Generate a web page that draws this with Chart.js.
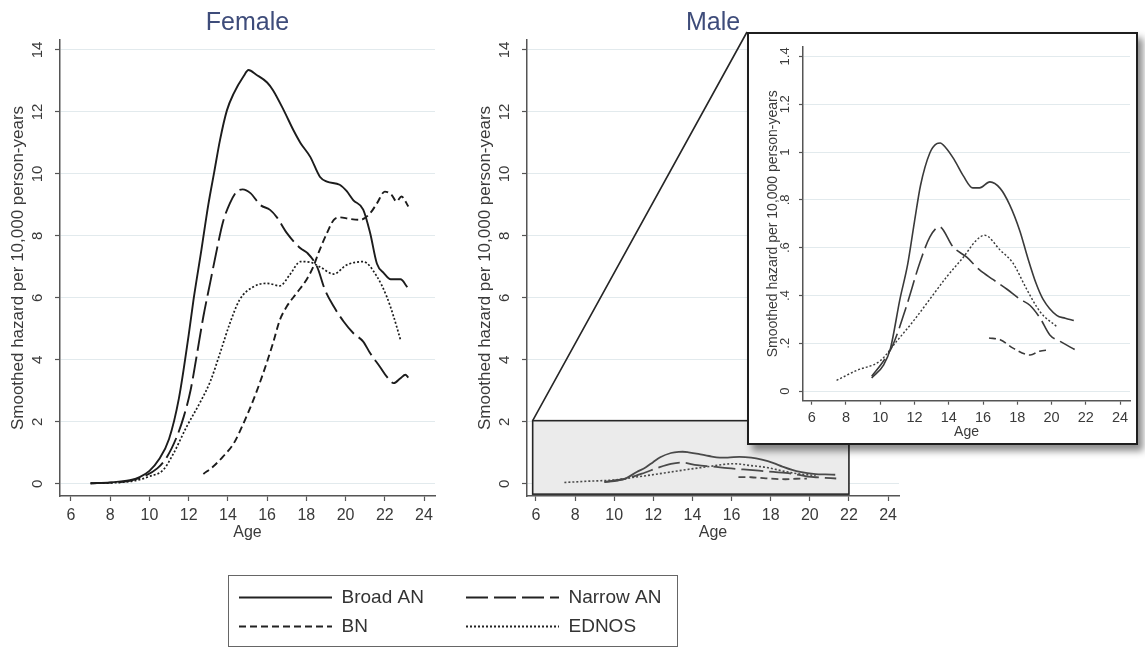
<!DOCTYPE html>
<html><head><meta charset="utf-8">
<script src="https://cdn.jsdelivr.net/npm/chart.js@4.4.1/dist/chart.umd.min.js"></script>
<style>
html,body{margin:0;padding:0;width:1145px;height:650px;overflow:hidden;background:#fff;}
canvas{position:absolute;}
#inset{position:absolute;left:747px;top:32px;width:387px;height:409px;border:2px solid #1e1e1e;background:#fff;box-shadow:5px 6px 7px rgba(0,0,0,0.45);z-index:2;}
#inset canvas{left:0;top:0;}
#legendBox{position:absolute;left:228px;top:575px;width:448px;height:70px;border:1.5px solid #666;}
</style></head><body>
<canvas id="female" width="460" height="546" style="left:0;top:0"></canvas>
<canvas id="male" width="460" height="546" style="left:467px;top:0"></canvas>
<div id="inset"><canvas id="zoom" width="387" height="409"></canvas></div>
<div id="legendBox"></div>
<canvas id="leg1" width="222" height="150" style="left:229px;top:578px;z-index:3"></canvas>
<canvas id="leg2" width="222" height="150" style="left:456px;top:578px;z-index:3"></canvas>
<script>
Chart.defaults.font.family = "'Liberation Sans', Arial, Helvetica, sans-serif";
Chart.defaults.color = '#3a3a3a';

// ---------------- data ----------------
const ageTicks = [6, 8, 10, 12, 14, 16, 18, 20, 22, 24];
const hazardTicks = [0, 2, 4, 6, 8, 10, 12, 14];
const insetHazardTicks = [0, 0.2, 0.4, 0.6, 0.8, 1, 1.2, 1.4];
const insetHazardTickLabels = ['0', '.2', '.4', '.6', '.8', '1', '1.2', '1.4'];
const seriesNames = ['Broad AN', 'Narrow AN', 'BN', 'EDNOS'];

// Female
const femaleBroadAge = [7, 8, 9, 9.5, 10, 10.5, 11, 11.5, 12, 12.25, 12.65, 13, 13.3, 13.6, 13.95, 14.3, 14.8, 15.05, 15.45, 16, 16.3, 16.85, 17.35, 17.7, 18.2, 18.7, 19.05, 19.7, 20.05, 20.4, 20.9, 21.25, 21.6, 21.95, 22.3, 22.8, 23.15];
const femaleBroadHazard = [0.02, 0.05, 0.12, 0.22, 0.42, 0.8, 1.45, 2.75, 4.8, 5.95, 7.55, 9.0, 10.05, 11.1, 12.05, 12.6, 13.15, 13.35, 13.2, 12.95, 12.7, 12.05, 11.4, 11.0, 10.55, 9.9, 9.75, 9.65, 9.45, 9.15, 8.85, 8.1, 7.1, 6.8, 6.6, 6.6, 6.35];
const femaleNarrowAge = [7, 8, 9, 9.7, 10.4, 10.9, 11.4, 11.75, 12.1, 12.4, 12.75, 13.1, 13.45, 13.75, 14.1, 14.45, 14.75, 15.15, 15.65, 16.15, 16.5, 17, 17.7, 18.05, 18.55, 18.95, 19.4, 19.9, 20.4, 20.9, 21.25, 21.75, 22.1, 22.45, 22.8, 23.05, 23.2];
const femaleNarrowHazard = [0.02, 0.04, 0.1, 0.24, 0.5, 0.88, 1.53, 2.17, 3.03, 4.1, 5.4, 6.5, 7.6, 8.45, 9.05, 9.43, 9.5, 9.38, 9.0, 8.84, 8.6, 8.1, 7.6, 7.45, 7.0, 6.26, 5.72, 5.24, 4.86, 4.59, 4.22, 3.78, 3.46, 3.25, 3.41, 3.52, 3.43];
const femaleBNAge = [12.75, 13.25, 13.75, 14.3, 14.8, 15.3, 15.8, 16.3, 16.65, 17, 17.5, 18, 18.35, 18.65, 19.05, 19.4, 19.7, 20.2, 20.75, 21.25, 21.6, 22.0, 22.35, 22.6, 22.85, 23.2];
const femaleBNHazard = [0.32, 0.56, 0.88, 1.31, 1.96, 2.71, 3.57, 4.54, 5.29, 5.72, 6.15, 6.58, 7.0, 7.5, 8.09, 8.52, 8.6, 8.55, 8.52, 8.73, 9.05, 9.43, 9.32, 9.11, 9.27, 8.95];
const femaleEDNOSAge = [7, 8, 9, 9.5, 10, 10.7, 11.2, 11.9, 12.6, 13.1, 13.6, 14.1, 14.6, 15.3, 16, 16.65, 17.15, 17.7, 18.2, 18.7, 19.4, 20.05, 20.9, 21.6, 22.1, 22.45, 22.8];
const femaleEDNOSHazard = [0.02, 0.03, 0.08, 0.14, 0.24, 0.45, 0.95, 1.85, 2.65, 3.3, 4.22, 5.18, 5.94, 6.36, 6.47, 6.39, 6.74, 7.17, 7.15, 7.0, 6.77, 7.06, 7.17, 6.69, 6.04, 5.4, 4.65];

// Male
const maleBroadAge = [9.5, 10.2, 10.6, 11.15, 11.6, 12, 12.35, 12.9, 13.3, 13.5, 13.8, 14.3, 14.85, 15.4, 15.8, 16.4, 17, 17.55, 18.15, 18.6, 19.1, 19.5, 20.3, 20.8, 21.3];
const maleBroadHazard = [0.055, 0.11, 0.18, 0.385, 0.53, 0.71, 0.86, 0.997, 1.035, 1.038, 1.02, 0.97, 0.9, 0.85, 0.85, 0.875, 0.848, 0.78, 0.67, 0.56, 0.45, 0.385, 0.317, 0.305, 0.295];
const maleNarrowAge = [9.5, 10.2, 10.75, 11.55, 12.3, 12.9, 13.45, 14.25, 15.05, 15.8, 16.6, 17.4, 18.15, 18.75, 19.35, 19.9, 20.5, 21.35];
const maleNarrowHazard = [0.062, 0.127, 0.195, 0.36, 0.535, 0.645, 0.687, 0.603, 0.56, 0.507, 0.466, 0.426, 0.385, 0.358, 0.303, 0.235, 0.208, 0.174];
const maleBNAge = [16.35, 17, 17.75, 18.75, 19.3, 19.85];
const maleBNHazard = [0.222, 0.215, 0.18, 0.151, 0.167, 0.172];
const maleEDNOSAge = [7.45, 8.6, 10, 10.95, 11.9, 12.9, 13.9, 14.85, 15.6, 16.1, 17, 17.75, 18.55, 19.35, 20.3];
const maleEDNOSHazard = [0.045, 0.086, 0.127, 0.208, 0.29, 0.385, 0.48, 0.56, 0.63, 0.652, 0.59, 0.535, 0.426, 0.33, 0.27];

// zoomed region shown in the male panel (data units)
const zoomRegionAge = [5.83, 22];
const zoomRegionHazard = [-0.33, 2.04];

// ---------------- styles ----------------
const seriesDash = {'Broad AN': [], 'Narrow AN': [22, 6], 'BN': [7, 4], 'EDNOS': [2, 2]};
const FONT = "'Liberation Sans', Arial, Helvetica, sans-serif";

function ds(name, ages, vals, color, width) {
  return {
    label: name,
    data: ages.map((a, i) => ({x: a, y: vals[i]})),
    borderColor: color,
    borderWidth: name === 'EDNOS' ? width * 0.9 : width,
    borderDash: seriesDash[name],
    pointRadius: 0,
    fill: false,
    cubicInterpolationMode: 'monotone',
    borderCapStyle: 'butt'
  };
}

function panelOptions(c) {
  return {
    responsive: false, animation: false, devicePixelRatio: 1,
    layout: {padding: {left: 0, right: c.padRight, top: c.padTop || 0, bottom: 0}},
    plugins: {
      legend: {display: false},
      tooltip: {enabled: false},
      title: c.title ? {display: true, text: c.title, fullSize: false, color: '#3e4c7a',
        font: {family: FONT, size: 25, weight: 'normal'}, padding: {top: 8, bottom: 2}} : {display: false}
    },
    scales: {
      x: {
        type: 'linear', min: c.xMin, max: c.xMax,
        afterBuildTicks: s => { s.ticks = ageTicks.map(v => ({value: v})); },
        afterFit: s => { s.height = c.xH; },
        grid: {display: true, drawOnChartArea: false, drawTicks: true, tickLength: c.tl, tickColor: '#555', tickWidth: 1.2},
        border: {display: true, color: '#555', width: 1.5},
        ticks: {autoSkip: false, maxRotation: 0, minRotation: 0, padding: c.xPad, color: '#3a3a3a',
          font: {family: FONT, size: c.xFont}},
        title: {display: true, text: 'Age', color: '#3a3a3a', font: {family: FONT, size: c.xTitleFont},
          padding: {top: 0, bottom: c.xTitlePad}}
      },
      y: {
        type: 'linear', min: c.yMin, max: c.yMax,
        afterBuildTicks: s => { s.ticks = c.yTicks.map(v => ({value: v})); },
        afterFit: s => { s.width = c.yW; },
        grid: {display: true, color: '#e2eaed', lineWidth: 1, drawTicks: true, tickLength: c.tl, tickColor: '#555', tickWidth: 1.2},
        border: {display: true, color: '#555', width: 1.5},
        ticks: {autoSkip: false, minRotation: 90, maxRotation: 90, crossAlign: 'center', padding: c.yPad,
          color: '#3a3a3a', font: {family: FONT, size: c.yFont},
          callback: (v, i) => c.yLabels ? c.yLabels[i] : String(v)},
        title: {display: true, text: 'Smoothed hazard per 10,000 person-years', color: '#3a3a3a',
          font: {family: FONT, size: c.yTitleFont}, padding: {top: c.yTitlePad, bottom: 0}}
      }
    }
  };
}

const mainCfg = {yMin: -0.39, yMax: 14.32, yTicks: hazardTicks, yW: 60, xH: 50, tl: 5,
  xPad: 5.4, yPad: 9, xFont: 16, yFont: 15, xTitleFont: 16, yTitleFont: 17, xTitlePad: 3.4, yTitlePad: 8};

function datasetsFor(ages, vals, color, width) {
  return seriesNames.map((n, k) => ds(n, ages[k], vals[k], color, width));
}

// Female panel
new Chart(document.getElementById('female'), {
  type: 'line',
  data: {datasets: datasetsFor(
    [femaleBroadAge, femaleNarrowAge, femaleBNAge, femaleEDNOSAge],
    [femaleBroadHazard, femaleNarrowHazard, femaleBNHazard, femaleEDNOSHazard], '#1c1c1c', 1.9)},
  options: panelOptions(Object.assign({}, mainCfg, {title: 'Female', xMin: 5.44, xMax: 24.56, padRight: 25}))
});

// Zoom-region plugin for male panel
const zoomRegionPlugin = {
  id: 'zoomRegion',
  beforeDatasetsDraw(chart) {
    const {ctx, scales: {x, y}} = chart;
    const l = x.getPixelForValue(zoomRegionAge[0]), r = x.getPixelForValue(zoomRegionAge[1]);
    const t = y.getPixelForValue(zoomRegionHazard[1]), b = y.getPixelForValue(zoomRegionHazard[0]);
    const inset = document.getElementById('inset');
    const cv = chart.canvas;
    const ix = inset.offsetLeft - cv.offsetLeft, iy = inset.offsetTop - cv.offsetTop;
    const ib = iy + inset.offsetHeight;
    ctx.save();
    ctx.fillStyle = '#ebebeb';
    ctx.fillRect(l, t, r - l, b - t);
    ctx.strokeStyle = '#262626';
    ctx.lineWidth = 1.6;
    ctx.strokeRect(l, t, r - l, b - t);
    ctx.beginPath();
    ctx.moveTo(l, t); ctx.lineTo(ix, iy);
    ctx.moveTo(r, t); ctx.lineTo(r, ib);
    ctx.stroke();
    ctx.restore();
  }
};

// Male panel
new Chart(document.getElementById('male'), {
  type: 'line',
  data: {datasets: datasetsFor(
    [maleBroadAge, maleNarrowAge, maleBNAge, maleEDNOSAge],
    [maleBroadHazard, maleNarrowHazard, maleBNHazard, maleEDNOSHazard], '#4a4a4a', 1.8)},
  options: panelOptions(Object.assign({}, mainCfg, {title: 'Male', xMin: 5.54, xMax: 24.56, padRight: 28})),
  plugins: [zoomRegionPlugin]
});

// Inset (zoomed male)
new Chart(document.getElementById('zoom'), {
  type: 'line',
  data: {datasets: datasetsFor(
    [maleBroadAge, maleNarrowAge, maleBNAge, maleEDNOSAge],
    [maleBroadHazard, maleNarrowHazard, maleBNHazard, maleEDNOSHazard], '#3a3a3a', 1.6)},
  options: panelOptions({xMin: 5.49, xMax: 24.58, yMin: -0.04, yMax: 1.44, yTicks: insetHazardTicks,
    yLabels: insetHazardTickLabels, padRight: 6, padTop: 4, yW: 54, xH: 42.3, tl: 4,
    xPad: 4.3, yPad: 5, xFont: 14.5, yFont: 13, xTitleFont: 14, yTitleFont: 14, xTitlePad: 2.9, yTitlePad: 15.6})
});

// Legend (two columns)
function legendChart(id, names) {
  new Chart(document.getElementById(id), {
    type: 'line',
    data: {datasets: names.map(n => ({label: n, data: [], borderColor: '#222', borderWidth: 2,
      borderDash: seriesDash[n], pointStyle: 'line'}))},
    options: {
      responsive: false, animation: false, devicePixelRatio: 1,
      layout: {padding: 0},
      plugins: {
        tooltip: {enabled: false},
        legend: {display: true, position: 'top', align: 'start',
          labels: {usePointStyle: true, pointStyle: 'line', pointStyleWidth: 93, font: {family: FONT, size: 19},
            color: '#333', padding: 10,
            generateLabels: chart => Chart.defaults.plugins.legend.labels.generateLabels(chart).map(item => {
              const d = chart.data.datasets[item.datasetIndex];
              item.lineDash = d.borderDash;
              item.lineWidth = d.borderWidth;
              item.strokeStyle = d.borderColor;
              return item;
            })}}
      },
      scales: {x: {display: false}, y: {display: false}}
    }
  });
}
legendChart('leg1', [seriesNames[0], seriesNames[2]]);
legendChart('leg2', [seriesNames[1], seriesNames[3]]);
</script>
</body></html>
